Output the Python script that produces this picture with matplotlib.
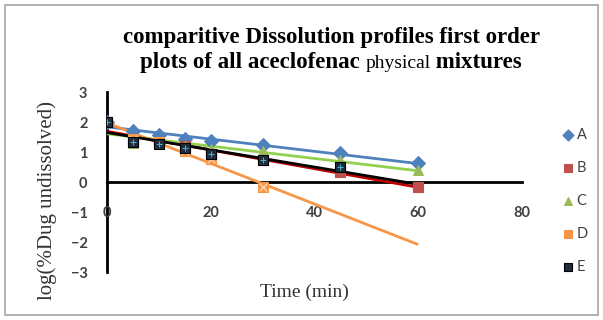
import numpy as np
import matplotlib
matplotlib.use("Agg")
import matplotlib.pyplot as plt
from matplotlib.patches import Rectangle

# time points (min)
times = [0, 5, 10, 15, 20, 30, 45, 60]
times_d = [0, 5, 10, 15, 20, 30]
times_e = [0, 5, 10, 15, 20, 30, 45]

# log(% drug undissolved)
series_a = [2.0, 1.70, 1.58, 1.45, 1.38, 1.22, 0.98, 0.62]
series_b = [2.0, 1.35, 1.30, 1.20, 0.95, 0.75, 0.35, -0.15]
series_c = [2.0, 1.30, 1.28, 1.20, 1.10, 1.02, 0.75, 0.40]
series_d = [2.0, 1.45, 1.35, 1.04, 0.76, -0.18]
series_e = [2.0, 1.33, 1.28, 1.15, 0.95, 0.74, 0.50]

labels = ["A", "B", "C", "D", "E"]
x_ticks = [0, 20, 40, 60, 80]
y_ticks = [-3, -2, -1, 0, 1, 2, 3]

fig = plt.figure(figsize=(6.03, 3.2), dpi=100)
ax = fig.add_axes([107 / 603, 48 / 320, 415 / 603, 180 / 320])

# frame around the whole chart
fig.patches.append(Rectangle((5 / 603, 5 / 320), 593 / 603, 310 / 320,
                             transform=fig.transFigure, fill=False,
                             edgecolor="#a6a6a6", linewidth=1.2))

styles = [
    # marker, face, edge, trendline colour
    ("D", "#4f81bd", "#4f81bd", "#4f81bd"),
    ("s", "#c0504d", "#c0504d", "#c00000"),
    ("^", "#9bbb59", "#9bbb59", "#92d050"),
    ("s", "#f79646", "#f79646", "#f79646"),
    ("s", "#1f2d3d", "#000000", "#000000"),
]
data = [(times, series_a), (times, series_b), (times, series_c),
        (times_d, series_d), (times_e, series_e)]

handles = []
for (xs, ys), (mk, fc, ec, lc), lab in zip(data, styles, labels):
    xs = np.array(xs, dtype=float)
    ys = np.array(ys, dtype=float)
    # linear trendline, drawn over 0..60 like the original
    k, b = np.polyfit(xs, ys, 1)
    xt = np.array([0, 60])
    ax.plot(xt, k * xt + b, color=lc, lw=2.0, zorder=2, solid_capstyle="butt")
    h = ax.scatter(xs, ys, marker=mk, s=50, facecolor=fc, edgecolor=ec,
                   linewidth=0.8, zorder=3, label=lab)
    handles.append(h)
    if lab == "D":
        ax.scatter(xs, ys, marker="x", s=30, color="#fcd5b4", linewidth=1.0, zorder=3)
    if lab == "E":
        ax.scatter(xs, ys, marker="+", s=22, color="#4bacc6", linewidth=0.8, zorder=3)

ax.set_xlim(0, 80)
ax.set_ylim(-3, 3)
ax.set_xticks(x_ticks)
ax.set_yticks(y_ticks)

for s in ["top", "right"]:
    ax.spines[s].set_visible(False)
ax.spines["bottom"].set_position(("data", 0))
ax.spines["left"].set_position(("data", 0))
for s in ["bottom", "left"]:
    ax.spines[s].set_linewidth(2.0)
    ax.spines[s].set_color("black")
    ax.spines[s].set_zorder(1)

ax.tick_params(axis="both", length=0, colors="#404040", labelsize=10.5)
ax.tick_params(axis="x", pad=17)
ax.tick_params(axis="y", pad=14)
for t in ax.get_xticklabels() + ax.get_yticklabels():
    t.set_fontfamily("Lato")
    t.set_fontweight("bold")

fig.text(47 / 603, 1 - 200 / 320, "log(%Dug undissolved)", rotation=90,
         ha="center", va="center", family="Liberation Serif", fontsize=15,
         color="#333333")
fig.text(304 / 603, 1 - 292 / 320, "Time (min)", ha="center", va="center",
         family="Liberation Serif", fontsize=14, color="#333333")

# title, line 2 has "physical" in a smaller regular face
fig.text(331 / 603, 1 - 43 / 320, "comparitive Dissolution profiles first order",
         ha="center", va="baseline", family="Liberation Serif",
         fontweight="bold", fontsize=16.5)
fig.canvas.draw()
renderer = fig.canvas.get_renderer()
parts = [("plots of all aceclofenac ", "bold", 16.5),
         ("physical", "normal", 14),
         (" mixtures", "bold", 16.5)]
texts = []
for txt, w, sz in parts:
    texts.append(fig.text(0, 1 - 68 / 320, txt, ha="left", va="baseline",
                          family="Liberation Serif", fontweight=w, fontsize=sz))
widths = [t.get_window_extent(renderer).width for t in texts]
x0 = 331 - sum(widths) / 2
for t, wd in zip(texts, widths):
    t.set_x(x0 / 603)
    x0 += wd

leg = fig.legend(handles=handles, labels=labels, loc="upper left",
                 bbox_to_anchor=(546 / 603, 1 - 115 / 320), frameon=False,
                 labelspacing=1.3, handletextpad=0.0, handlelength=1.2,
                 markerscale=0.8, prop={"family": "Lato", "size": 10.5})
for t in leg.get_texts():
    t.set_color("#404040")

fig.savefig("out.png", dpi=100)
